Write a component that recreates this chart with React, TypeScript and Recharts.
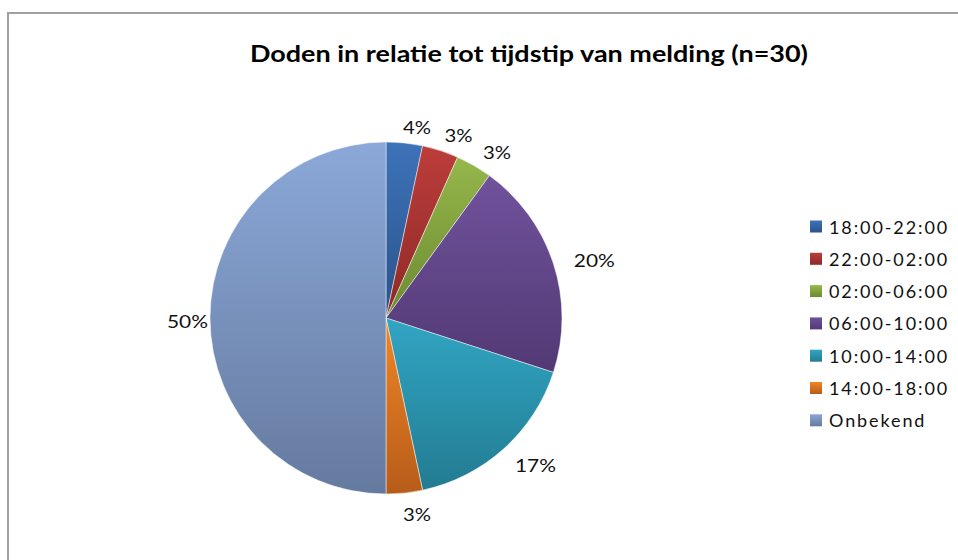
import React from 'react';
import { PieChart, Pie, Cell, Legend } from 'recharts';

const title = 'Doden in relatie tot tijdstip van melding (n=30)';
const categories = ['18:00-22:00', '22:00-02:00', '02:00-06:00', '06:00-10:00', '10:00-14:00', '14:00-18:00', 'Onbekend'];
const counts = [1, 1, 1, 6, 5, 1, 15];
const percentLabels = ['4%', '3%', '3%', '20%', '17%', '3%', '50%'];
const colorsTop = ['#3D73BA', '#BC3D3A', '#95B74B', '#70529C', '#31A5C3', '#F18627', '#8BA8D8'];
const colorsBottom = ['#2A5389', '#8D2A27', '#6C8931', '#523974', '#227C91', '#B65C19', '#657A9F'];

const data = categories.map((name, i) => ({ name, value: counts[i] }));

const RAD = Math.PI / 180;
const FONT = 'Lato, "Open Sans", "DejaVu Sans", sans-serif';

const renderLabel = (p: any) => {
  const { cx, cy, midAngle, outerRadius, index } = p;
  const ux = Math.cos(-midAngle * RAD);
  const uy = Math.sin(-midAngle * RAD);
  const text = percentLabels[index];
  const w = 13 * text.length + 2;
  const h = 14;
  const r = outerRadius + 12;
  const x = cx + r * ux + (ux * w) / 2 + 10;
  const y = cy + r * uy + (uy * h) / 2 + 3;
  return (
    <text
      key={`lbl-${index}`}
      x={x}
      y={y}
      textAnchor="middle"
      dominantBaseline="central"
      fontFamily={FONT}
      fontSize={17}
      fill="#111"
      textLength={w}
      lengthAdjust="spacingAndGlyphs"
    >
      {text}
    </text>
  );
};

const renderLegend = () => (
  <svg width={153} height={230} style={{ display: 'block' }}>
    {categories.map((c, i) => {
      const yc = 14.5 + i * 32.3;
      return (
        <g key={c}>
          <rect x={5} y={yc - 6} width={12} height={12} fill={`url(#grad${i})`} />
          <text
            x={24}
            y={yc}
            dominantBaseline="central"
            fontFamily={FONT}
            fontSize={18}
            letterSpacing={1.9}
            fill="#111"
          >
            {c}
          </text>
        </g>
      );
    })}
  </svg>
);

export default function App() {
  return (
    <div style={{ position: 'absolute', left: 0, top: 0, width: 958, height: 560, overflow: 'hidden', background: '#fff' }}>
      <PieChart width={958} height={560} margin={{ top: 0, right: 0, bottom: 0, left: 0 }}>
        <defs>
          {categories.map((c, i) => (
            <linearGradient key={c} id={`grad${i}`} x1="0" y1="0" x2="0" y2="1">
              <stop offset="0%" stopColor={colorsTop[i]} />
              <stop offset="100%" stopColor={colorsBottom[i]} />
            </linearGradient>
          ))}
        </defs>
        <rect x={8} y={13} width={1000} height={600} fill="none" stroke="#A0A0A0" strokeWidth={2} />
        <text
          x={250}
          y={62}
          fontFamily={FONT}
          fontWeight="bold"
          fontSize={23}
          fill="#000"
          textLength={558}
          lengthAdjust="spacingAndGlyphs"
        >
          {title}
        </text>
        <Pie
          data={data}
          dataKey="value"
          nameKey="name"
          cx={386}
          cy={318}
          outerRadius={176}
          startAngle={90}
          endAngle={-270}
          stroke="rgba(255,255,255,0.6)"
          strokeWidth={0.8}
          label={renderLabel}
          labelLine={false}
          isAnimationActive={false}
        >
          {data.map((d, i) => (
            <Cell key={d.name} fill={`url(#grad${i})`} />
          ))}
        </Pie>
        <Legend
          layout="vertical"
          align="right"
          verticalAlign="top"
          content={renderLegend}
          wrapperStyle={{ left: 805, top: 212, width: 153, height: 230, right: 'auto', bottom: 'auto' }}
        />
      </PieChart>
    </div>
  );
}
